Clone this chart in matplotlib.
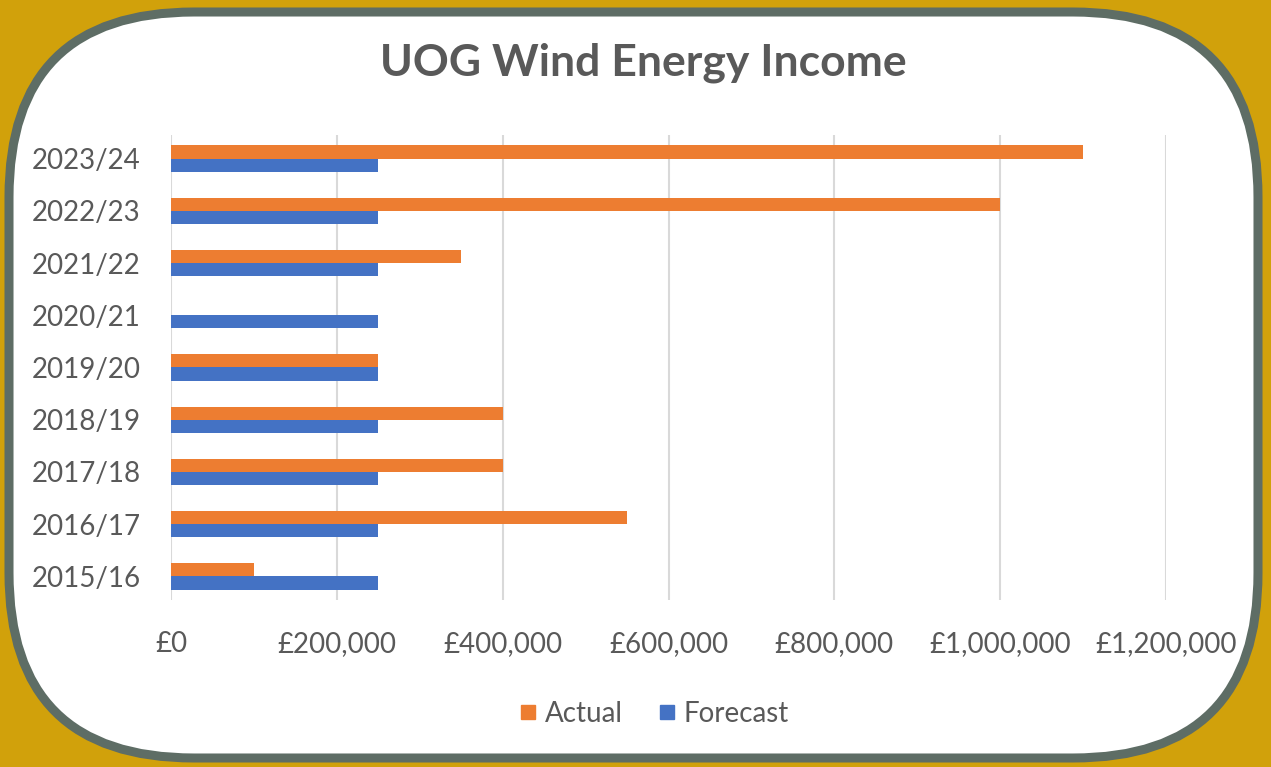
import matplotlib
matplotlib.use("Agg")
import matplotlib.pyplot as plt
from matplotlib.patches import FancyBboxPatch
from matplotlib.lines import Line2D
import numpy as np

years = ["2015/16", "2016/17", "2017/18", "2018/19", "2019/20", "2020/21", "2021/22", "2022/23", "2023/24"]
actual = [100000, 550000, 400000, 400000, 250000, 0, 350000, 1000000, 1100000]
forecast = [250000, 250000, 250000, 250000, 250000, 250000, 250000, 250000, 250000]
xticks = [0, 200000, 400000, 600000, 800000, 1000000, 1200000]
xticklabels = ["£0", "£200,000", "£400,000", "£600,000", "£800,000", "£1,000,000", "£1,200,000"]

ORANGE = "#ED7D31"
BLUE = "#4472C4"
GOLD = "#D1A10B"
BORDER = "#5E6D65"
TXT = "#595959"
FONT = ["Lato", "DejaVu Sans"]

W, H = 1271, 767
fig = plt.figure(figsize=(W / 100, H / 100), dpi=100, facecolor=GOLD)

bg = fig.add_axes([0, 0, 1, 1])
bg.set_xlim(0, W)
bg.set_ylim(H, 0)
bg.axis("off")
bg.add_patch(FancyBboxPatch((9, 12), 1249, 746, boxstyle="round,pad=0,rounding_size=185",
                            facecolor="white", edgecolor=BORDER, linewidth=6.5))

ax = fig.add_axes([171 / W, (H - 600) / H, (1166 - 171) / W, (600 - 135) / H])
ax.set_facecolor("none")
y = np.arange(len(years))
h = 0.25
ax.barh(y + h / 2, actual, height=h, color=ORANGE, zorder=3)
ax.barh(y - h / 2, forecast, height=h, color=BLUE, zorder=3)
ax.set_xlim(0, 1200000)
ax.set_ylim(-0.45, 8.45)
ax.set_xticks(xticks)
ax.set_xticklabels(xticklabels, fontsize=20, color=TXT, family=FONT)
ax.set_yticks(y)
ax.set_yticklabels(years, fontsize=20, color=TXT, family=FONT)
ax.tick_params(length=0, pad=22, axis="y")
ax.tick_params(length=0, pad=22, axis="x")
ax.grid(axis="x", color="#D9D9D9", linewidth=1.5, zorder=0)
for s in ax.spines.values():
    s.set_visible(False)

fig.text(643 / W, 1 - 63 / H, "UOG Wind Energy Income", ha="center", va="center",
         fontsize=32, fontweight="bold", color=TXT, family=FONT)

handles = [Line2D([], [], marker="s", linestyle="none", markersize=10, color=ORANGE),
           Line2D([], [], marker="s", linestyle="none", markersize=10, color=BLUE)]
leg = fig.legend(handles, ["Actual", "Forecast"], loc="center", bbox_to_anchor=(650 / W, 1 - 714 / H),
                 ncol=2, frameon=False, handletextpad=0.0, columnspacing=1.0, handlelength=1.2,
                 prop={"family": FONT, "size": 20})
for t in leg.get_texts():
    t.set_color(TXT)

fig.savefig("out.png", dpi=100, facecolor=GOLD)
